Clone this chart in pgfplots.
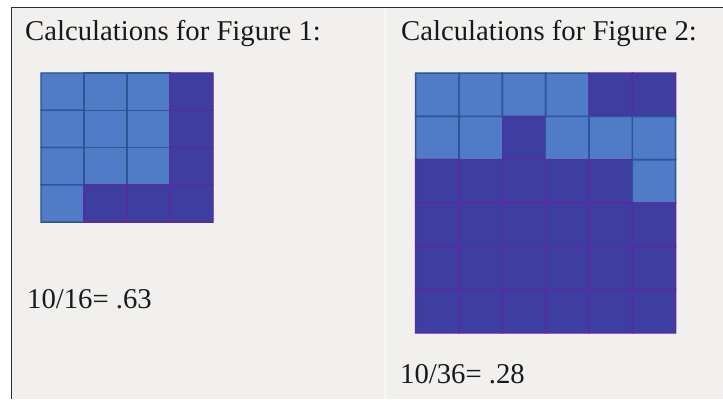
\documentclass[border=0pt]{standalone}
\usepackage{pgfplots}
\pgfplotsset{compat=1.18}
\usepackage{fontspec}
\setmainfont{Liberation Serif}

\definecolor{panelbg}{RGB}{241,240,238}
\definecolor{frame}{RGB}{45,45,45}

% cell values: 0 = light (counted), 1 = dark
\pgfplotstableread{
x y c
62.5 91.6 0
105.5 91.6 0
148.5 91.6 0
191.5 91.6 1
62.5 128.9 0
105.5 128.9 0
148.5 128.9 0
191.5 128.9 1
62.5 166.1 0
105.5 166.1 0
148.5 166.1 0
191.5 166.1 1
62.5 203.4 0
105.5 203.4 1
148.5 203.4 1
191.5 203.4 1
}\figone
\pgfplotstableread{
x y c
437.3 94.7 0
480.7 94.7 0
524.0 94.7 0
567.3 94.7 0
610.7 94.7 1
654.0 94.7 1
437.3 138.0 0
480.7 138.0 0
524.0 138.0 1
567.3 138.0 0
610.7 138.0 0
654.0 138.0 0
437.3 181.3 1
480.7 181.3 1
524.0 181.3 1
567.3 181.3 1
610.7 181.3 1
654.0 181.3 0
437.3 224.7 1
480.7 224.7 1
524.0 224.7 1
567.3 224.7 1
610.7 224.7 1
654.0 224.7 1
437.3 268.0 1
480.7 268.0 1
524.0 268.0 1
567.3 268.0 1
610.7 268.0 1
654.0 268.0 1
437.3 311.3 1
480.7 311.3 1
524.0 311.3 1
567.3 311.3 1
610.7 311.3 1
654.0 311.3 1
}\figtwo

\begin{document}
\begin{tikzpicture}
\begin{axis}[
  scale only axis, width=723pt, height=399pt,
  xmin=0, xmax=723, ymin=0, ymax=399, y dir=reverse,
  axis line style={draw=none}, ticks=none,
  axis background/.style={fill=white},
  point meta min=0, point meta max=1,
  colormap={cells}{rgb255=(79,123,199) rgb255=(62,62,160)},
]
\fill[panelbg] (axis cs:12,8) rectangle (axis cs:723,399);
\draw[white!45!panelbg, line width=2pt] (axis cs:385,8) -- (axis cs:385,399);
\draw[frame, line width=1.5pt] (axis cs:11.5,399) -- (axis cs:11.5,7.5) -- (axis cs:723,7.5);

% fills
\addplot[matrix plot*, mesh/cols=4, point meta=explicit, draw=none]
  table[meta=c] {\figone};
\addplot[matrix plot*, mesh/cols=6, point meta=explicit, draw=none]
  table[meta=c] {\figtwo};
% cell edges
\addplot[matrix plot*, mesh/cols=4, point meta=explicit, fill opacity=0,
  colormap={edges}{rgb255=(44,86,150) rgb255=(88,42,166)},
  draw=mapped color, line width=1.4pt]
  table[meta=c] {\figone};
\addplot[matrix plot*, mesh/cols=6, point meta=explicit, fill opacity=0,
  colormap={edges}{rgb255=(44,86,150) rgb255=(88,42,166)},
  draw=mapped color, line width=1.4pt]
  table[meta=c] {\figtwo};

\node[anchor=base west, inner sep=0pt, text=black!90, font=\fontsize{28.7}{31}\selectfont]
  at (axis cs:25,40) {Calculations for Figure 1:};
\node[anchor=base west, inner sep=0pt, text=black!90, font=\fontsize{28.7}{31}\selectfont]
  at (axis cs:401,40) {Calculations for Figure 2:};
\node[anchor=base west, inner sep=0pt, text=black!90, font=\fontsize{28.7}{31}\selectfont]
  at (axis cs:27,308) {10/16= .63};
\node[anchor=base west, inner sep=0pt, text=black!90, font=\fontsize{28.7}{31}\selectfont]
  at (axis cs:400,383) {10/36= .28};
\end{axis}
\end{tikzpicture}
\end{document}
